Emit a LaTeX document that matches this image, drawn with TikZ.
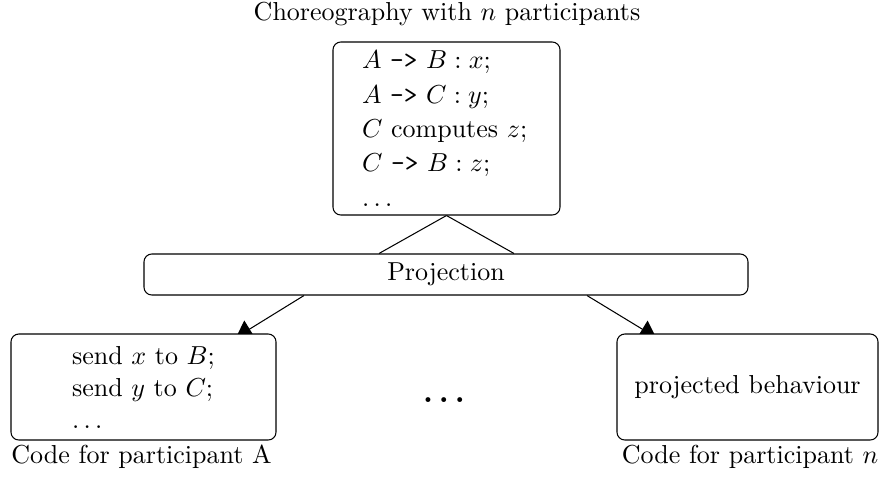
\documentclass[tikz,border=0pt]{standalone}
\usetikzlibrary{arrows.meta}
\pgfdeclarelayer{background}
\pgfsetlayers{background,main}
\def\pxu{0.3846pt}
\begin{document}
\begin{tikzpicture}[x=\pxu,y=-\pxu,
  box/.style={draw, line width=0.4pt, rounded corners=3pt, fill=white, inner sep=0pt},
  conn/.style={line width=0.4pt},
  arr/.style={conn, -{Triangle[length=6.15pt, width=7.7pt]}},
  lbl/.style={anchor=base, inner sep=0pt}]
\useasboundingbox (0,0) rectangle (882,477);
\node[lbl] (title) at (447,20) {Choreography with $n$ participants};
\node[box, minimum width=227*\pxu, minimum height=173*\pxu, text width=169*\pxu,
      inner xsep=29*\pxu, align=left] (chor) at (446.5,128.5)
  {$A$ \texttt{->} $B : x$;\\[1.2pt]
   $A$ \texttt{->} $C : y$;\\[1.2pt]
   $C$ computes $z$;\\[1.2pt]
   $C$ \texttt{->} $B : z$;\\[1.2pt]
   $\ldots$};
\node[box, minimum width=604*\pxu, minimum height=41*\pxu] (proj) at (446,274.5) {Projection};
\node[box, minimum width=265*\pxu, minimum height=106*\pxu, align=left] (pa) at (143.5,387)
  {send $x$ to $B$;\\[0.3pt] send $y$ to $C$;\\[0.3pt] $\ldots$};
\node[box, minimum width=261*\pxu, minimum height=106*\pxu] (pn) at (747.5,387) {projected behaviour};
\node[lbl, font=\large\boldmath] (mid) at (444,402) {$\ldots$};
\node[lbl] (la) at (141.5,463) {Code for participant A};
\node[lbl] (ln) at (750,463) {Code for participant $n$};
\begin{pgfonlayer}{background}
\draw[conn] (chor.south) -- ([xshift=-67*\pxu]proj.north);
\draw[conn] (chor.south) -- ([xshift=68*\pxu]proj.north);
\draw[arr] ([xshift=-142*\pxu]proj.south) -- ([xshift=92.5*\pxu, yshift=-4*\pxu]pa.north);
\draw[arr] ([xshift=141*\pxu]proj.south) -- ([xshift=-91.5*\pxu, yshift=-4*\pxu]pn.north);
\end{pgfonlayer}
\end{tikzpicture}
\end{document}
